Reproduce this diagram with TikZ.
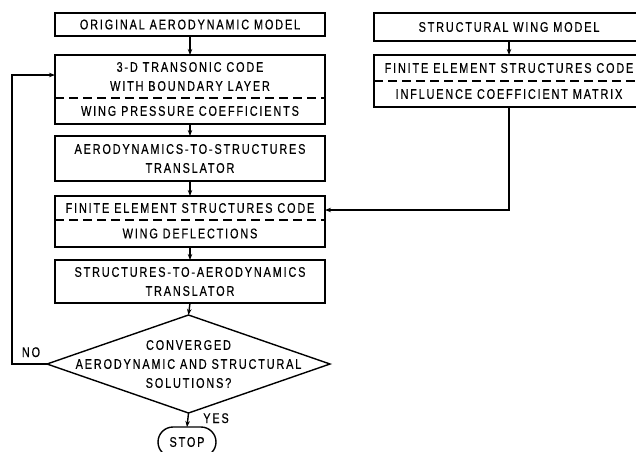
\documentclass[tikz,border=0pt]{standalone}
\usepackage{fontspec}
\setmainfont{Liberation Sans}[FakeStretch=0.78, LetterSpace=13, FakeBold=0.5]
\usetikzlibrary{shapes.geometric,shapes.misc,arrows.meta}
\begin{document}
\begin{tikzpicture}[x=1pt,y=-1pt,
  line width=1.4pt,
  every node/.style={font=\fontsize{14}{19}\selectfont, align=center, outer sep=0pt},
  part/.style={minimum width=270pt, inner sep=0pt},
  box/.style={part, draw},
  divider/.style={dash pattern=on 9pt off 5pt},
  arr/.style={-{Stealth[length=6pt,width=4.5pt]}},
  lbl/.style={inner sep=0pt, anchor=base}
]
\useasboundingbox (0,0) rectangle (636,451);
\clip (0,0) rectangle (636,451);
% left column
\node[box, minimum height=23pt] (orig) at (190,24.5) {ORIGINAL AERODYNAMIC MODEL};
\node[part, minimum height=43pt] (tc) at (190,76.5) {3-D TRANSONIC CODE\\WITH BOUNDARY LAYER};
\node[part, minimum height=26pt] (wp) at (190,111) {WING PRESSURE COEFFICIENTS};
\draw (tc.north west) rectangle (wp.south east);
\draw[divider] (tc.south west) -- (tc.south east);
\node[box, minimum height=45pt] (ats) at (190,158.5) {AERODYNAMICS-TO-STRUCTURES\\TRANSLATOR};
\node[part, minimum height=24pt] (fe) at (190,208) {FINITE ELEMENT STRUCTURES CODE};
\node[part, minimum height=27pt] (wd) at (190,233.5) {WING DEFLECTIONS};
\draw (fe.north west) rectangle (wd.south east);
\draw[divider] (fe.south west) -- (fe.south east);
\node[box, minimum height=43pt] (sta) at (190,281.5) {STRUCTURES-TO-AERODYNAMICS\\TRANSLATOR};
\node[diamond, draw, minimum width=283pt, minimum height=98pt, inner sep=0pt] (dec) at (188.5,364) {};
\node (dectext) at (dec.center) {CONVERGED\\AERODYNAMIC AND STRUCTURAL\\SOLUTIONS?};
\node[rounded rectangle, draw, minimum width=58pt, minimum height=30pt, inner sep=0pt] (stop) at (187,442) {STOP};
% right column
\node[box, minimum height=28pt] (swm) at (509,27) {STRUCTURAL WING MODEL};
\node[part, minimum height=26pt] (fer) at (509,68) {FINITE ELEMENT STRUCTURES CODE};
\node[part, minimum height=26pt] (icm) at (509,94) {INFLUENCE COEFFICIENT MATRIX};
\draw (fer.north west) rectangle (icm.south east);
\draw[divider] (fer.south west) -- (fer.south east);
% connectors
\draw[arr] (orig.south) -- (tc.north);
\draw[arr] (wp.south) -- (ats.north);
\draw[arr] (ats.south) -- (fe.north);
\draw[arr] (wd.south) -- (sta.north);
\draw[arr] (sta.south) -- (dec.north);
\draw[arr] (dec.south) -- (stop.north);
\draw[arr] (swm.south) -- (fer.north);
\coordinate (r1) at (509,210);
\draw[arr] (icm.south) -- (r1) -- (fe.east |- r1);
\coordinate (l1) at (12,364);
\coordinate (l2) at (12,75);
\draw[arr] (dec.west) -- (l1) -- (l2) -- (tc.west |- l2);
% labels
\node[lbl] (no) at (31,357) {NO};
\node[lbl] (yes) at (216,423) {YES};
\end{tikzpicture}
\end{document}
